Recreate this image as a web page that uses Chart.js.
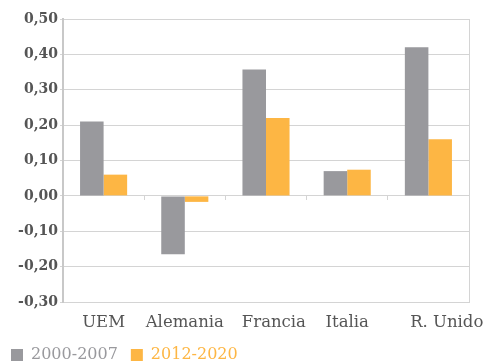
<!DOCTYPE html>
<html>
<head>
<meta charset="utf-8">
<script src="https://cdn.jsdelivr.net/npm/chart.js@4"></script>
<style>
  html, body { margin: 0; padding: 0; background: #fff; }
  #wrap { width: 486px; height: 361px; }
</style>
</head>
<body>
<div id="wrap"><canvas id="chart" width="486" height="361"></canvas></div>
<script>
const categories = ['UEM', 'Alemania', 'Francia', 'Italia', 'R. Unido'];
const serie2000 = [0.21, -0.165, 0.357, 0.07, 0.42];
const serie2012 = [0.06, -0.017, 0.22, 0.074, 0.16];
const seriesNames = ['2000-2007', '2012-2020'];
// leading spaces so the labels sit where the original puts them
const labelShift = [0, 0, 3, 0, 7];

const GREY = '#99999d';
const ORANGE = '#fdb644';
const GRID = '#d4d4d4';
const FONT = '"DejaVu Serif", serif';

const ctx = document.getElementById('chart').getContext('2d');
new Chart(ctx, {
  type: 'bar',
  data: {
    labels: categories,
    datasets: [
      { label: seriesNames[0], data: serie2000, backgroundColor: GREY, categoryPercentage: 0.58, barPercentage: 1 },
      { label: seriesNames[1], data: serie2012, backgroundColor: ORANGE, categoryPercentage: 0.58, barPercentage: 1 }
    ]
  },
  options: {
    responsive: false,
    animation: false,
    layout: { padding: { top: 19, right: 9, left: -2, bottom: -12 } },
    scales: {
      x: {
        grid: { display: false, drawTicks: false },
        border: { display: false },
        ticks: {
          color: '#555',
          font: { family: FONT, size: 16.5 },
          padding: 11,
          maxRotation: 0,
          autoSkip: false,
          callback: (v, i) => ' '.repeat(labelShift[i]) + categories[i]
        },
        afterFit: (scale) => {
          scale.height = 32;
          scale.paddingLeft = 0;
          scale.paddingRight = 0;
        }
      },
      // tick marks on the zero line
      x2: {
        type: 'category',
        labels: categories,
        position: { y: 0 },
        offset: true,
        grid: { offset: true, drawOnChartArea: false, drawTicks: true, tickLength: 4, color: GRID },
        border: { display: false },
        ticks: { display: false }
      },
      y: {
        min: -0.3,
        max: 0.5,
        ticks: {
          stepSize: 0.1,
          color: '#555',
          font: { family: FONT, size: 14, weight: 'bold' },
          padding: 2,
          callback: (v) => (Math.round(v * 100) / 100).toFixed(2).replace('.', ',')
        },
        grid: { color: GRID, tickLength: 3 },
        border: { color: '#c8c8c8', width: 2 },
        afterFit: (scale) => { scale.width = 65; }
      },
      yr: {
        position: 'right',
        min: -0.3,
        max: 0.5,
        ticks: { display: false },
        grid: { display: false },
        border: { color: GRID, width: 1 }
      }
    },
    plugins: {
      tooltip: { enabled: false },
      legend: {
        position: 'bottom',
        align: 'start',
        labels: {
          boxWidth: 12,
          boxHeight: 12,
          padding: 13,
          font: { family: FONT, size: 16 },
          generateLabels: (chart) => chart.data.datasets.map((ds, i) => ({
            text: ds.label,
            fillStyle: ds.backgroundColor,
            strokeStyle: ds.backgroundColor,
            lineWidth: 0,
            fontColor: ds.backgroundColor,
            datasetIndex: i
          }))
        }
      }
    }
  }
});
</script>
</body>
</html>
